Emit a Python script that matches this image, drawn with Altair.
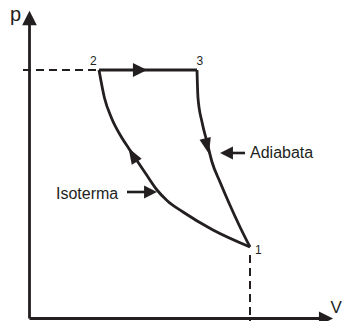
import altair as alt
import pandas as pd

INK = "#231f20"
FONT = "Liberation Sans"

# Isotherm, from state 2 down to state 1 (V, p in arbitrary units)
iso_V = [6.95, 7.5, 8.2, 9.25, 9.9, 10.5, 11.65, 12.75, 13.8, 15.35, 18.35, 22.05]
iso_p = [24.85, 22.05, 20.05, 18.05, 17.05, 16.15, 14.45, 12.85, 11.75, 10.65, 8.85, 7.15]

# Adiabat, from state 3 down to state 1
adi_V = [16.75, 16.85, 17.25, 17.75, 18.25, 19.05, 19.95, 21.05, 22.05]
adi_p = [24.85, 22.05, 19.65, 17.65, 15.65, 13.65, 11.55, 9.15, 7.15]

# Straight solid segments: axes, isobar 2->3, label arrow shafts
seg_names = ["yaxis", "yaxis", "xaxis", "xaxis", "isobar", "isobar",
             "shaftA", "shaftA", "shaftI", "shaftI"]
seg_V = [0, 0, 0, 29.05, 6.95, 16.75, 20.25, 21.55, 9.75, 11.55]
seg_p = [0, 29.45, 0, 0, 24.85, 24.85, 16.55, 16.55, 12.65, 12.65]
seg_w = [2.8, 2.8, 2.8, 2.8, 3.0, 3.0, 2.6, 2.6, 2.6, 2.6]

# Dashed guide lines
dash_names = ["h", "h", "v", "v"]
dash_V = [-0.65, 6.95, 22.05, 22.05]
dash_p = [24.85, 24.85, 6.35, -1.05]

# Arrowheads on axes, isobar and label pointers (centre, direction, size)
arr_V = [0, 29.65, 11.05, 19.70, 12.10]
arr_p = [30.05, 0, 24.85, 16.55, 12.65]
arr_angle = [0, 90, 90, 270, 90]
arr_size = [215, 200, 200, 165, 165]

# Slimmer arrowheads sitting on the two curves
carr_V = [17.76, 10.31]
carr_p = [17.23, 16.36]
carr_angle = [166, 329]
carr_size = [256, 256]

# Text labels
lab_text = ["p", "V", "2", "3", "1", "Isoterma", "Adiabata"]
lab_V = [-1.95, 30.1, 6.05, 16.7, 22.55, 2.65, 22.05]
lab_p = [29.75, 0.55, 25.35, 25.35, 6.5, 11.95, 16.1]
lab_size = [20, 17, 12, 12, 12, 16, 16]

xs = alt.Scale(domain=[-2.15, 31.25], nice=False, zero=False)
ys = alt.Scale(domain=[-0.25, 31.05], nice=False, zero=False)
X = lambda: alt.X("V:Q", scale=xs, axis=None)
Y = lambda: alt.Y("p:Q", scale=ys, axis=None)

curves = pd.DataFrame({
    "V": iso_V + adi_V,
    "p": iso_p + adi_p,
    "c": ["iso"] * len(iso_V) + ["adi"] * len(adi_V),
    "o": list(range(len(iso_V))) + list(range(len(adi_V))),
})
segs = pd.DataFrame({"V": seg_V, "p": seg_p, "s": seg_names, "w": seg_w,
                     "o": [0, 1] * 5})
dashes = pd.DataFrame({"V": dash_V, "p": dash_p, "s": dash_names, "o": [0, 1, 0, 1]})
arrows = pd.DataFrame({"V": arr_V, "p": arr_p, "a": arr_angle, "sz": arr_size})
carrows = pd.DataFrame({"V": carr_V, "p": carr_p, "a": carr_angle, "sz": carr_size})
labels = pd.DataFrame({"V": lab_V, "p": lab_p, "t": lab_text, "fs": lab_size})

curve_layer = alt.Chart(curves).mark_line(
    color=INK, strokeWidth=2.8, interpolate="monotone"
).encode(x=X(), y=Y(), detail="c:N", order="o:Q")

seg_layer = alt.Chart(segs).mark_line(color=INK).encode(
    x=X(), y=Y(), detail="s:N", order="o:Q",
    strokeWidth=alt.StrokeWidth("w:Q", scale=None),
)

dash_layer = alt.Chart(dashes).mark_line(
    color=INK, strokeWidth=2, strokeDash=[8, 5]
).encode(x=X(), y=Y(), detail="s:N", order="o:Q")

arrow_layer = alt.Chart(arrows).mark_point(
    shape="M0,-1L-1,1L1,1Z", filled=True, color=INK, opacity=1, strokeWidth=0
).encode(
    x=X(), y=Y(),
    angle=alt.Angle("a:Q", scale=None),
    size=alt.Size("sz:Q", scale=None),
)

carrow_layer = alt.Chart(carrows).mark_point(
    shape="M0,-1L-0.72,1L0.72,1Z", filled=True, color=INK, opacity=1, strokeWidth=0
).encode(
    x=X(), y=Y(),
    angle=alt.Angle("a:Q", scale=None),
    size=alt.Size("sz:Q", scale=None),
)

text_layer = alt.Chart(labels).mark_text(
    align="left", baseline="alphabetic", font=FONT, color=INK
).encode(
    x=X(), y=Y(), text="t:N",
    size=alt.Size("fs:Q", scale=None),
)

chart = alt.layer(
    dash_layer, curve_layer, seg_layer, arrow_layer, carrow_layer, text_layer
).properties(
    width=334, height=313, padding=0,
    autosize=alt.AutoSizeParams(type="none"),
    background="white",
).configure_view(stroke=None)

chart.save("out.html", embed_options={"renderer": "svg", "actions": False})
